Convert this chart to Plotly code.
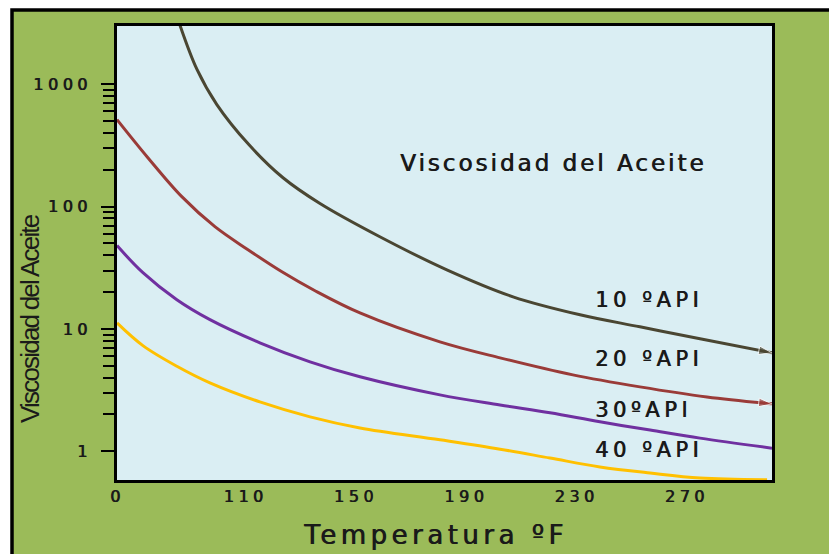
import plotly.graph_objects as go

# ---- data ----
temp_10 = [86.2, 92.4, 99.6, 111.2, 123.6, 137.0, 158.7, 183.0, 207.0, 231.3, 253.0, 274.8, 300.9]
visc_10 = [3050, 1320, 682, 321, 172, 106, 56.7, 30.4, 18.3, 13.05, 10.4, 8.3, 6.37]

temp_20 = [63.4, 74.6, 86.9, 98.9, 110.9, 123.2, 135.2, 151.5, 180.5, 202.3, 228.7, 253.0, 277.3, 300.9]
visc_20 = [514, 251, 120.5, 68.5, 44.4, 29.3, 20.5, 13.5, 7.84, 5.80, 4.21, 3.36, 2.78, 2.44]

temp_30 = [63.4, 72.8, 85.1, 97.1, 115.2, 133.4, 151.5, 180.5, 202.3, 220.4, 238.5, 256.7, 274.8, 300.9]
visc_30 = [48, 28.8, 17.3, 11.9, 7.7, 5.38, 4.06, 2.89, 2.39, 2.06, 1.74, 1.49, 1.28, 1.06]

temp_40 = [63.4, 72.8, 85.1, 97.1, 115.2, 133.4, 151.5, 180.5, 202.3, 220.4, 238.5, 256.7, 274.8, 299.1]
visc_40 = [11.2, 7.3, 4.95, 3.62, 2.53, 1.91, 1.55, 1.24, 1.04, 0.88, 0.744, 0.664, 0.605, 0.585]

series_names = ["10 ºAPI", "20 ºAPI", "30ºAPI", "40 ºAPI"]
series_colors = ["#4a4632", "#9a3b38", "#7030a0", "#ffc000"]

x_tickvals = [63.5, 110, 150, 190, 230, 270]
x_ticktext = ["0", "110", "150", "190", "230", "270"]
y_tickvals = [1, 10, 100, 1000]
y_ticktext = ["1", "10", "100", "1000"]
y_minor = [2, 3, 4, 5, 6, 7, 8, 9, 20, 30, 40, 50, 60, 70, 80, 90,
           200, 300, 400, 500, 600, 700, 800, 900]

title_text = "Viscosidad del Aceite"
x_title = "Temperatura ºF"
y_title = "Viscosidad del Aceite"

FONT = "DejaVu Sans, Verdana, sans-serif"
INK = "#1a1a1a"
SHADOW = "0.7px 0px 0px #1a1a1a"


def spaced(t, px):
    return f'<span style="letter-spacing:{px}px">{t}</span>'


fig = go.Figure()

series = [(temp_10, visc_10), (temp_20, visc_20), (temp_30, visc_30), (temp_40, visc_40)]
arrow_on = [True, True, False, False]
for (xs, ys), name, col, arr in zip(series, series_names, series_colors, arrow_on):
    n = len(xs)
    fig.add_trace(go.Scatter(
        x=xs, y=ys, name=name, mode="lines+markers" if arr else "lines",
        line=dict(color=col, width=3, shape="spline", smoothing=1.0),
        marker=dict(symbol="arrow", angleref="previous",
                    size=[0] * (n - 1) + [14], color=col) if arr else None,
        showlegend=False,
    ))

# background frames
fig.add_shape(type="rect", xref="paper", yref="paper",
              x0=-0.1603, x1=1.6, y0=-0.6, y1=1.0352,
              fillcolor="#9bbb59", line=dict(color="black", width=3.5), layer="below")
fig.add_shape(type="rect", xref="paper", yref="paper",
              x0=0, x1=1, y0=0, y1=1,
              fillcolor="#daeef3", line=dict(width=0), layer="below")

# in-plot labels
fig.add_annotation(xref="paper", yref="paper", x=(553 - 117) / 655, y=(480 - 163) / 454,
                   text=spaced(title_text, 3), showarrow=False,
                   font=dict(family=FONT, size=23, color=INK, shadow=SHADOW),
                   xanchor="center", yanchor="middle")
label_y_px = [300, 359, 410, 450]
for name, py in zip(series_names, label_y_px):
    fig.add_annotation(xref="paper", yref="paper", x=(593 - 117) / 655, y=(480 - py) / 454,
                       text=spaced(name, 4.5), showarrow=False,
                       font=dict(family=FONT, size=21, color=INK, shadow=SHADOW),
                       xanchor="left", yanchor="middle")

# axis titles
fig.add_annotation(xref="paper", yref="paper", x=(435 - 117) / 655, y=(480 - 535) / 454,
                   text=spaced(x_title, 4.5), showarrow=False,
                   font=dict(family=FONT, size=26, color=INK, shadow=SHADOW),
                   xanchor="center", yanchor="middle")
fig.add_annotation(xref="paper", yref="paper", x=(30 - 117) / 655, y=(480 - 319) / 454,
                   text=spaced(y_title, -1.8), showarrow=False, textangle=-90,
                   font=dict(family="Liberation Sans, Arial, sans-serif",
                             size=26, color=INK),
                   xanchor="center", yanchor="middle")

fig.update_xaxes(range=[63.4, 300.9], tickmode="array", tickvals=x_tickvals,
                 ticktext=[spaced(t, 4.5) for t in x_ticktext],
                 ticks="", showgrid=False, zeroline=False,
                 showline=True, mirror=True, linecolor="black", linewidth=3,
                 tickfont=dict(family=FONT, size=16, color=INK, shadow=SHADOW))
fig.update_yaxes(type="log", range=[-0.235, 3.476], tickmode="array", tickvals=y_tickvals,
                 ticktext=[spaced(t, 4.5) for t in y_ticktext],
                 ticks="outside", ticklen=13, tickwidth=2, tickcolor="black",
                 ticklabelstandoff=6,
                 minor=dict(tickmode="array", tickvals=y_minor, ticks="outside",
                            ticklen=11, tickwidth=2, tickcolor="black", showgrid=False),
                 showgrid=False, zeroline=False,
                 showline=True, mirror=True, linecolor="black", linewidth=3,
                 tickfont=dict(family=FONT, size=16, color=INK, shadow=SHADOW))

fig.update_layout(width=829, height=554, margin=dict(l=117, r=57, t=26, b=74),
                  paper_bgcolor="white", plot_bgcolor="#daeef3")

fig.write_html("out.html")
